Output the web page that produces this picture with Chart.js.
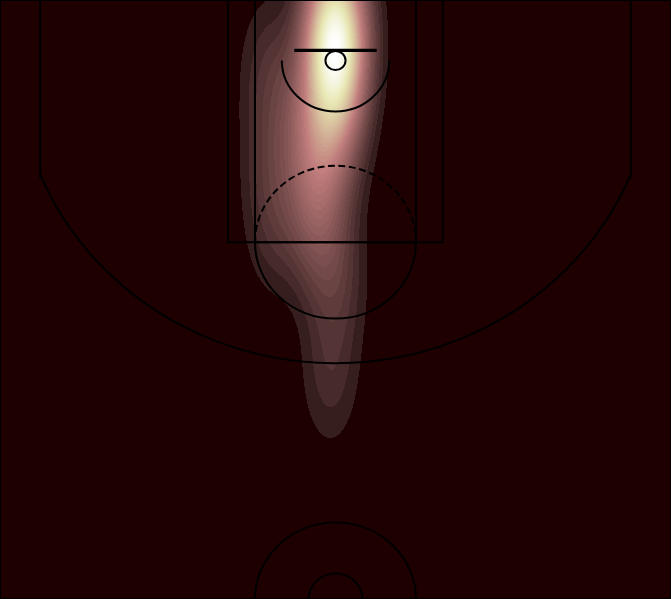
<!DOCTYPE html>
<html><head><meta charset="utf-8">
<script src="https://cdn.jsdelivr.net/npm/chart.js@4"></script>
<style>html,body{margin:0;padding:0;background:#1e0000;overflow:hidden}#wrap{width:671px;height:599px;position:relative}</style>
</head><body><div id="wrap"><canvas id="c"></canvas></div>
<script>
// Estimated shot locations (court units: tenths of a foot, hoop at 0,0)
const shotX = [2, -2, 3, -1, 1, -3, 2, 0, -2, 3, -1, 1, -3, 2, 0, -2,
               -3, 1, -2, 3, -1, 2, -28, -2, -8, -20, -3, -18, -6, -10, -22, -16, -8, 2, -4,
               -50, -48, -46];
const shotY = [-46, -42, -38, -34, -30, -27, -24, -21, -18, -15, -12, -9, -6, -3, -1, -20,
               1, 5, 10, 14, 19, 25, 31, 38, 45, 52, 61, 70, 80, 93, 107, 124, 146, 175, 245,
               8, 72, 125];
// KDE kernel bandwidths (court units)
const bandwidthX = 14;
const bandwidthY = 38;
const contourLevels = 50;
// Court extent
const courtX = [-250, 250];
const courtY = [-47.5, 422.5];
// Court geometry: rectangles [x, y, width, height]
const courtRects = [
  [-30, -7.5, 60, -1],       // backboard
  [-80, -47.5, 160, 190],    // outer paint
  [-60, -47.5, 120, 190],    // inner paint
  [-220, -47.5, 0, 140],     // left corner three
  [220, -47.5, 0, 140],      // right corner three
  [-250, -47.5, 500, 470]    // outer lines
];
// Arcs [centerX, centerY, radius, theta1, theta2, dashed]
const courtArcs = [
  [0, 0, 7.5, 0, 360, false],       // hoop
  [0, 0, 40, 0, 180, false],        // restricted area
  [0, 142.5, 60, 0, 180, false],    // free throw top (solid)
  [0, 142.5, 60, 180, 360, true],   // free throw bottom (dashed)
  [0, 0, 237.5, 22, 158, false],    // three point arc
  [0, 422.5, 60, 180, 360, false],  // center outer
  [0, 422.5, 20, 180, 360, false]   // center inner
];

function pink(t) {
  const hr = t < 0.365079 ? 0.0416 + t * (1 - 0.0416) / 0.365079 : 1;
  const hg = t < 0.365079 ? 0 : (t < 0.746032 ? (t - 0.365079) / (0.746032 - 0.365079) : 1);
  const hb = t < 0.746032 ? 0 : (t - 0.746032) / (1 - 0.746032);
  return [Math.sqrt((2 * t + hr) / 3), Math.sqrt((2 * t + hg) / 3), Math.sqrt((2 * t + hb) / 3)].map(v => Math.round(v * 255));
}

const kdePlugin = {
  id: 'kde',
  beforeDatasetsDraw(chart) {
    const { ctx, chartArea: a, scales: { x, y } } = chart;
    const w = Math.round(a.right - a.left), h = Math.round(a.bottom - a.top);
    const off = document.createElement('canvas'); off.width = w; off.height = h;
    const octx = off.getContext('2d');
    const img = octx.createImageData(w, h);
    const pts = chart.data.datasets[0].data;
    const n = pts.length;
    const ex = [], ey = [];
    for (let k = 0; k < n; k++) {
      const rx = new Float64Array(w), ry = new Float64Array(h);
      for (let i = 0; i < w; i++) { const v = (x.getValueForPixel(a.left + i + 0.5) - pts[k].x) / bandwidthX; rx[i] = Math.exp(-0.5 * v * v); }
      for (let j = 0; j < h; j++) { const v = (y.getValueForPixel(a.top + j + 0.5) - pts[k].y) / bandwidthY; ry[j] = Math.exp(-0.5 * v * v); }
      ex.push(rx); ey.push(ry);
    }
    const dens = new Float64Array(w * h);
    let max = 0;
    for (let j = 0; j < h; j++) for (let i = 0; i < w; i++) {
      let d = 0; for (let k = 0; k < n; k++) d += ex[k][i] * ey[k][j];
      dens[j * w + i] = d; if (d > max) max = d;
    }
    const cols = []; for (let l = 0; l < contourLevels; l++) cols.push(pink(l / (contourLevels - 1)));
    for (let p = 0; p < w * h; p++) {
      let l = Math.floor(dens[p] / max * contourLevels); if (l >= contourLevels) l = contourLevels - 1;
      const c = cols[l];
      img.data[p * 4] = c[0]; img.data[p * 4 + 1] = c[1]; img.data[p * 4 + 2] = c[2]; img.data[p * 4 + 3] = 255;
    }
    octx.putImageData(img, 0, 0);
    ctx.drawImage(off, a.left, a.top);
  }
};

const courtPlugin = {
  id: 'court',
  afterDatasetsDraw(chart) {
    const { ctx, scales: { x, y } } = chart;
    ctx.save();
    ctx.strokeStyle = '#000'; ctx.lineWidth = 2;
    courtRects.forEach(r => {
      const x0 = x.getPixelForValue(r[0]), x1 = x.getPixelForValue(r[0] + r[2]);
      const y0 = y.getPixelForValue(r[1]), y1 = y.getPixelForValue(r[1] + r[3]);
      ctx.beginPath(); ctx.rect(Math.min(x0, x1), Math.min(y0, y1), Math.abs(x1 - x0), Math.abs(y1 - y0)); ctx.stroke();
    });
    courtArcs.forEach(c => {
      const cx = x.getPixelForValue(c[0]), cy = y.getPixelForValue(c[1]);
      const rx = Math.abs(x.getPixelForValue(c[0] + c[2]) - cx), ry = Math.abs(y.getPixelForValue(c[1] + c[2]) - cy);
      ctx.setLineDash(c[5] ? [7, 3.5] : []);
      ctx.beginPath(); ctx.ellipse(cx, cy, rx, ry, 0, c[3] * Math.PI / 180, c[4] * Math.PI / 180, false); ctx.stroke();
    });
    ctx.restore();
  }
};

new Chart(document.getElementById('c'), {
  type: 'scatter',
  data: { datasets: [{ label: 'Shots', data: shotX.map((v, i) => ({ x: v, y: shotY[i] })), pointRadius: 0, pointHoverRadius: 0 }] },
  options: {
    responsive: true, maintainAspectRatio: false, animation: false,
    layout: { padding: 0 },
    events: [],
    plugins: { legend: { display: false }, tooltip: { enabled: false } },
    scales: {
      x: { type: 'linear', min: courtX[0], max: courtX[1], display: false },
      y: { type: 'linear', min: courtY[0], max: courtY[1], reverse: true, display: false }
    }
  },
  plugins: [kdePlugin, courtPlugin]
});
</script></body></html>
